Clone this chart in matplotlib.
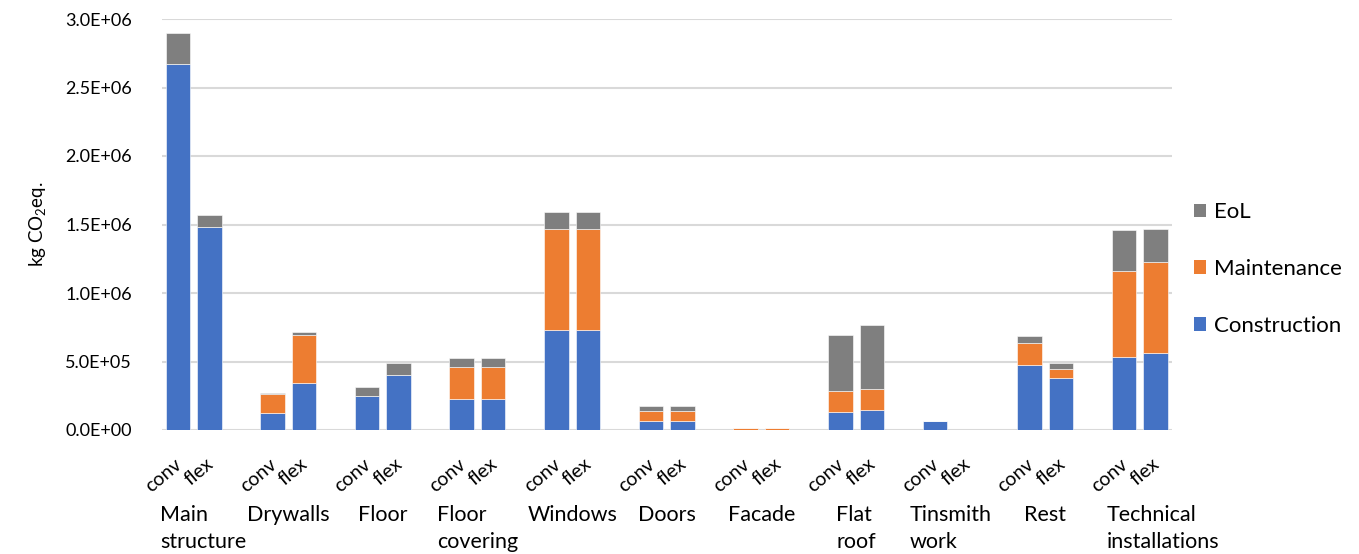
import matplotlib
matplotlib.use("Agg")
import matplotlib.pyplot as plt
import numpy as np
from matplotlib.patches import Patch
from matplotlib.ticker import FuncFormatter, MultipleLocator

plt.rcParams['font.family'] = ['Lato', 'DejaVu Sans']
plt.rcParams['mathtext.fontset'] = 'custom'
plt.rcParams['mathtext.rm'] = 'Lato'

# Building elements (one group each) and the two building variants
categories = ["Main\nstructure", "Drywalls", "Floor", "Floor\ncovering", "Windows", "Doors",
              "Facade", "Flat\nroof", "Tinsmith\nwork", "Rest", "Technical\ninstallations"]
variants = ["conv", "flex"]

# kg CO2 eq. per life-cycle phase, conventional variant
construction_conv = [2.67e6, 0.125e6, 0.245e6, 0.225e6, 0.73e6, 0.065e6, 0.002e6, 0.135e6, 0.065e6, 0.472e6, 0.53e6]
maintenance_conv = [0.0, 0.135e6, 0.0, 0.235e6, 0.74e6, 0.075e6, 0.012e6, 0.15e6, 0.0, 0.163e6, 0.63e6]
eol_conv = [0.225e6, 0.01e6, 0.07e6, 0.065e6, 0.12e6, 0.035e6, 0.002e6, 0.405e6, 0.0, 0.05e6, 0.30e6]

# kg CO2 eq. per life-cycle phase, flexible variant
construction_flex = [1.48e6, 0.34e6, 0.405e6, 0.225e6, 0.73e6, 0.065e6, 0.002e6, 0.145e6, 0.0, 0.377e6, 0.565e6]
maintenance_flex = [0.0, 0.35e6, 0.0, 0.235e6, 0.74e6, 0.075e6, 0.012e6, 0.155e6, 0.0, 0.07e6, 0.66e6]
eol_flex = [0.09e6, 0.022e6, 0.085e6, 0.065e6, 0.12e6, 0.035e6, 0.002e6, 0.47e6, 0.0, 0.04e6, 0.245e6]

phases = ["Construction", "Maintenance", "EoL"]
colors = {"Construction": "#4472C4", "Maintenance": "#ED7D31", "EoL": "#7F7F7F"}

fig = plt.figure(figsize=(13.59, 5.54), dpi=100)
ax = fig.add_axes([162 / 1359, 1 - 430 / 554, (1171.5 - 162) / 1359, (430 - 19) / 554])

n = len(categories)
group = np.arange(n) * 3
x_conv = group + 0
x_flex = group + 1
width = 0.777

series = {
    "conv": [construction_conv, maintenance_conv, eol_conv],
    "flex": [construction_flex, maintenance_flex, eol_flex],
}
for xs, key in ((x_conv, "conv"), (x_flex, "flex")):
    bottom = np.zeros(n)
    for phase, vals in zip(phases, series[key]):
        vals = np.asarray(vals, dtype=float)
        ax.bar(xs, vals, width, bottom=bottom, color=colors[phase],
               edgecolor="#FFFFFF", linewidth=0.4, zorder=3)
        bottom += vals

ax.set_xlim(-0.5, 3 * n - 1.5)
ax.set_ylim(0, 3.0e6)
ax.yaxis.set_major_locator(MultipleLocator(0.5e6))
ax.yaxis.set_major_formatter(FuncFormatter(lambda v, p: f"{v:.1E}"))
ax.grid(axis="y", color="#D9D9D9", linewidth=1.5, zorder=0)
ax.set_axisbelow(True)
for s in ax.spines.values():
    s.set_visible(False)
ax.tick_params(axis="y", length=0, pad=21.5, labelsize=13, labelcolor="#000000")
ax.tick_params(axis="x", length=0)
ax.set_xticks([])

ax.set_ylabel("kg CO$_\\mathregular{2}$eq.", fontsize=13.5, labelpad=12)

# Variant labels, slanted under each bar
tr = ax.get_xaxis_transform()
for g in range(n):
    for xv, lab in ((x_conv[g], variants[0]), (x_flex[g], variants[1])):
        ax.annotate(lab, xy=(xv + 0.05, 0), xycoords=tr, xytext=(0, -23), textcoords="offset points",
                    rotation=40, rotation_mode="anchor", ha="right", va="center",
                    fontsize=14, annotation_clip=False)

# Element names below the variant labels
for g, name in enumerate(categories):
    left_aligned = g in (0, n - 1)
    if left_aligned:
        xv, ha = group[g] - 0.55, "left"
    else:
        xv, ha = group[g] + 0.5, "center"
    ax.annotate(name, xy=(xv, 0), xycoords=tr, xytext=(0, -54), textcoords="offset points",
                ha=ha, va="top", multialignment="left", fontsize=15.5, linespacing=1.45,
                annotation_clip=False)

handles = [Patch(facecolor=colors[p], edgecolor="none", label=p) for p in reversed(phases)]
fig.legend(handles=handles, loc="center left", bbox_to_anchor=(1174 / 1359, 1 - 269 / 554),
           frameon=False, fontsize=16, handlelength=0.55, handleheight=0.55,
           handletextpad=0.35, labelspacing=1.65)

fig.savefig("out.png", dpi=100)
